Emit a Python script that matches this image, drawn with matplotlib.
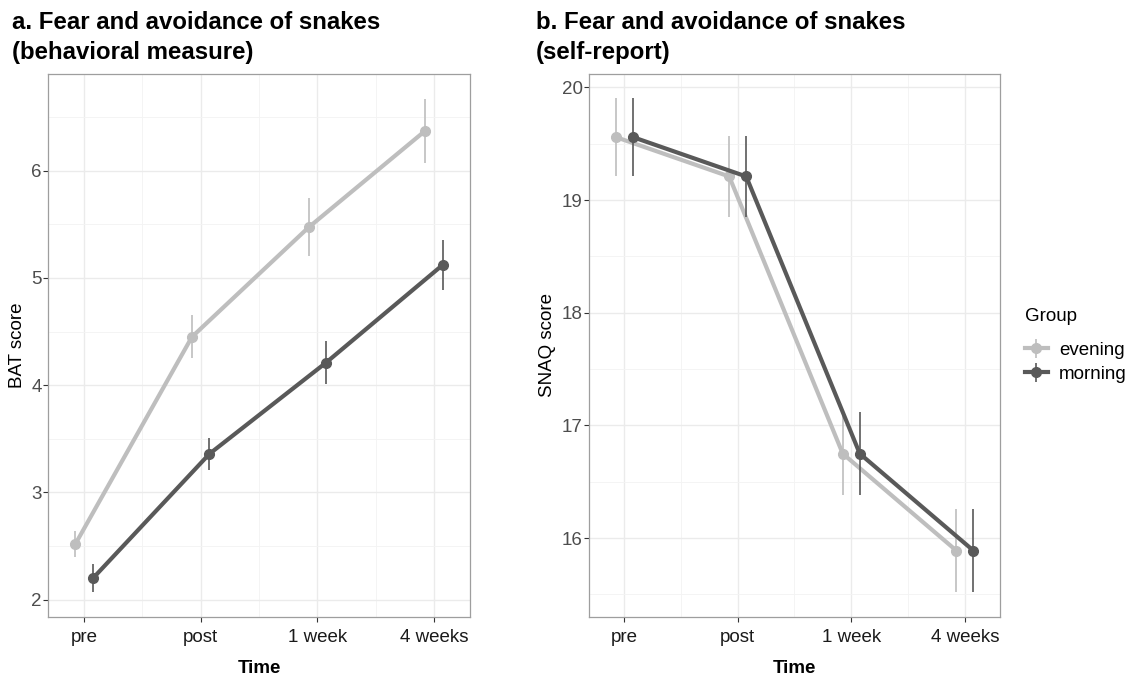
import numpy as np
import matplotlib
matplotlib.use('Agg')
import matplotlib.pyplot as plt
from matplotlib.ticker import FixedLocator

plt.rcParams['font.family'] = ['Liberation Sans', 'DejaVu Sans']

time_labels = ['pre', 'post', '1 week', '4 weeks']
groups = ['evening', 'morning']
group_colors = {'evening': '#BEBEBE', 'morning': '#595959'}

# panel a: BAT score
bat_mean = {'evening': [2.52, 4.45, 5.47, 6.37],
            'morning': [2.20, 3.36, 4.21, 5.12]}
bat_err = {'evening': [0.12, 0.20, 0.27, 0.30],
           'morning': [0.13, 0.15, 0.20, 0.23]}

# panel b: SNAQ score
snaq_mean = {'evening': [19.56, 19.21, 16.75, 15.89],
             'morning': [19.56, 19.21, 16.75, 15.89]}
snaq_err = {'evening': [0.35, 0.36, 0.37, 0.37],
            'morning': [0.35, 0.36, 0.37, 0.37]}

DODGE = 0.075
fig = plt.figure(figsize=(11.29, 6.76), dpi=100)
ax1 = fig.add_axes([0.0425, 0.0873, 0.3738, 0.8033])
ax2 = fig.add_axes([0.5217, 0.0873, 0.3640, 0.8033])


def draw_panel(ax, means, errs, ylim, yticks, yminor, ylabel, title):
    x = np.arange(len(time_labels))
    for i, g in enumerate(groups):
        xs = x + (-DODGE if i == 0 else DODGE)
        ax.errorbar(xs, means[g], yerr=errs[g], color=group_colors[g],
                    lw=3, marker='o', ms=7, elinewidth=1.2, capsize=0,
                    label=g, zorder=3 + i)
    ax.set_xlim(-0.31, 3.31)
    ax.set_ylim(*ylim)
    ax.set_xticks(x)
    ax.set_xticklabels(time_labels)
    ax.xaxis.set_minor_locator(FixedLocator([0.5, 1.5, 2.5]))
    ax.set_yticks(yticks)
    ax.set_yticklabels([str(t) for t in yticks])
    ax.yaxis.set_minor_locator(FixedLocator(yminor))
    ax.grid(True, which='major', color='#EBEBEB', lw=1.0, zorder=0)
    ax.grid(True, which='minor', color='#F3F3F3', lw=0.6, zorder=0)
    ax.set_axisbelow(True)
    ax.tick_params(which='major', length=3.5, width=0.8, color='#333333',
                   labelsize=13.5, labelcolor='#4D4D4D', pad=1)
    ax.tick_params(axis='x', labelcolor='#1A1A1A', pad=5)
    ax.tick_params(which='minor', length=0)
    for s in ax.spines.values():
        s.set_color('#9E9E9E')
        s.set_linewidth(0.9)
    ax.set_xlabel('Time', fontsize=13.5, fontweight='bold', labelpad=10)
    ax.set_ylabel(ylabel, fontsize=13.5, labelpad=4)
    ax.set_title(title, loc='left', fontsize=17.3, fontweight='bold',
                 x=-0.085 if ax is ax1 else -0.13, pad=11, linespacing=1.35)


draw_panel(ax1, bat_mean, bat_err, (1.84, 6.90), [2, 3, 4, 5, 6],
           [2.5, 3.5, 4.5, 5.5, 6.5], 'BAT score',
           'a. Fear and avoidance of snakes\n(behavioral measure)')
draw_panel(ax2, snaq_mean, snaq_err, (15.30, 20.12), [16, 17, 18, 19, 20],
           [15.5, 16.5, 17.5, 18.5, 19.5], 'SNAQ score',
           'b. Fear and avoidance of snakes\n(self-report)')

leg = ax2.legend(title='Group', loc='center left', bbox_to_anchor=(1.02, 0.5),
                 frameon=False, fontsize=13.5, title_fontsize=13.5,
                 handlelength=1.2, handletextpad=0.6, labelspacing=0.35)
leg._legend_box.align = 'left'
leg._legend_box.sep = 12

plt.savefig('out.png', dpi=100)
